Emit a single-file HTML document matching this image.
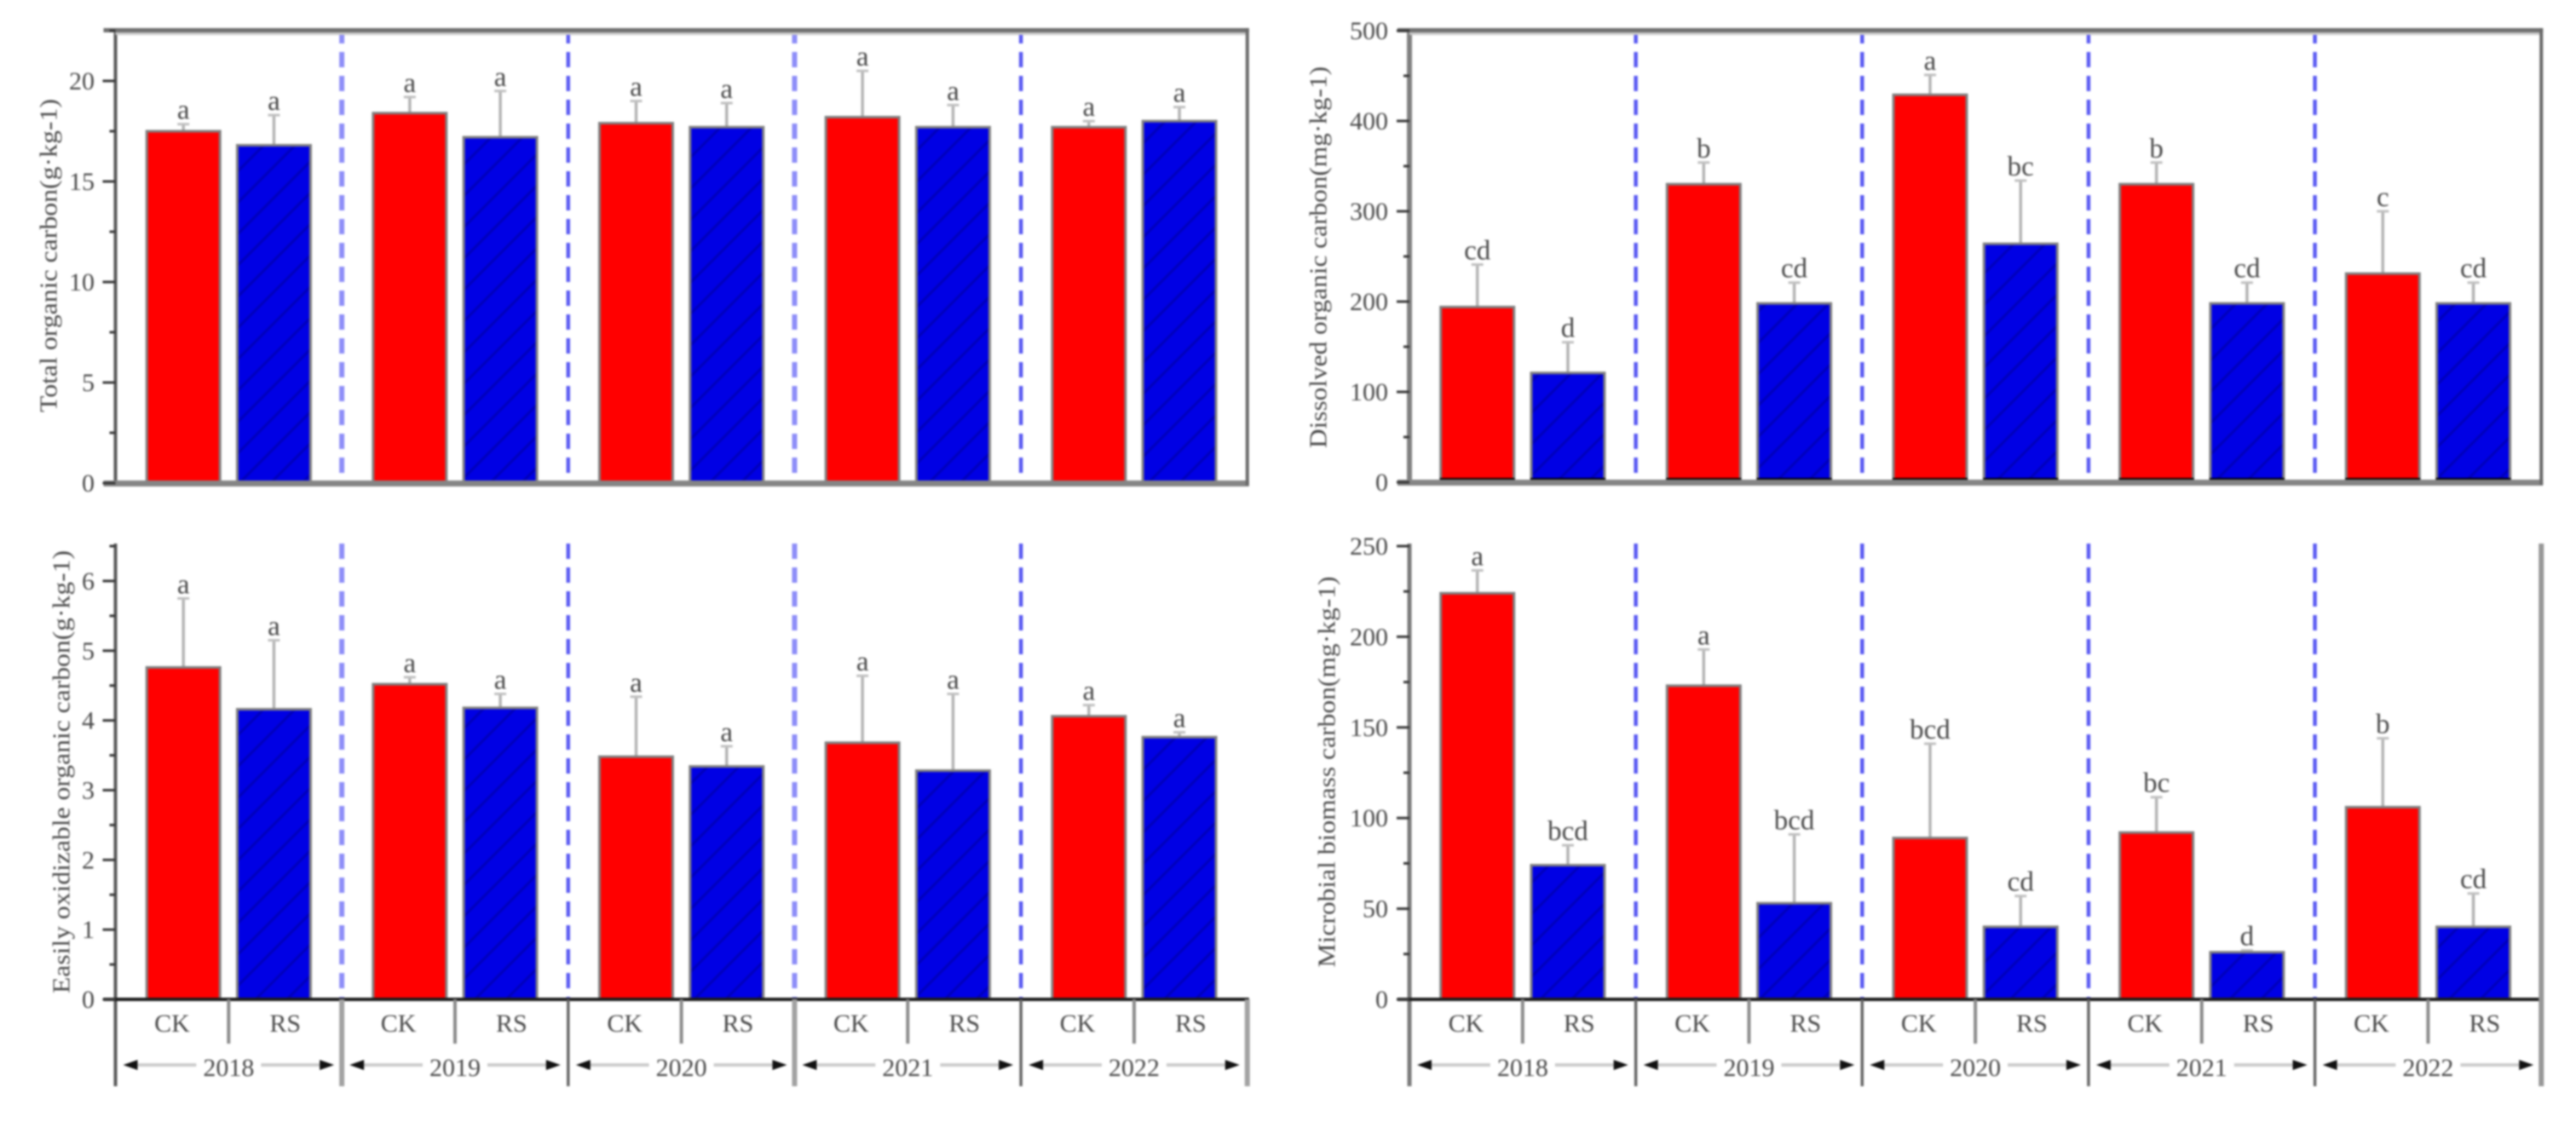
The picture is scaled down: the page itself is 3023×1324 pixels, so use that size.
<!DOCTYPE html>
<html lang="en">
<head>
<meta charset="utf-8">
<title>Soil carbon fractions under CK and RS, 2018–2022</title>
<style>
html,body{margin:0;padding:0;background:#fff;width:3023px;height:1324px;overflow:hidden}
svg{display:block;filter:blur(1px)}
text{font-family:"Liberation Serif",serif;fill:#4a4a4a}
</style>
</head>
<body>
<svg id="figure" xmlns="http://www.w3.org/2000/svg" width="3023" height="1324" viewBox="0 0 3023 1324">
  <defs>
    <pattern id="hatch" patternUnits="userSpaceOnUse" width="26" height="26" patternTransform="rotate(-45)">
      <rect width="26" height="26" fill="#0000e4"></rect>
      <rect width="26" height="3" fill="#0000bb"></rect>
    </pattern>
  </defs>
</svg>
<script>
const years = ['2018', '2019', '2020', '2021', '2022'];
const treatments = ['CK', 'RS'];

const tocTicks = [0, 5, 10, 15, 20];
const tocCK = [17.5, 18.4, 17.9, 18.2, 17.7];
const tocRS = [16.8, 17.2, 17.7, 17.7, 18.0];
const tocCKErr = [0.35, 0.8, 1.1, 2.3, 0.3];
const tocRSErr = [1.5, 2.3, 1.2, 1.1, 0.7];
const tocCKLetters = ['a', 'a', 'a', 'a', 'a'];
const tocRSLetters = ['a', 'a', 'a', 'a', 'a'];

const docTicks = [0, 100, 200, 300, 400, 500];
const docCK = [194, 330, 429, 330, 231];
const docRS = [121, 198, 264, 198, 198];
const docCKErr = [47, 24, 22, 24, 69];
const docRSErr = [34, 23, 70, 23, 23];
const docCKLetters = ['cd', 'b', 'a', 'b', 'c'];
const docRSLetters = ['d', 'cd', 'bc', 'cd', 'cd'];

const eocTicks = [0, 1, 2, 3, 4, 5, 6];
const eocCK = [4.76, 4.52, 3.48, 3.68, 4.06];
const eocRS = [4.16, 4.18, 3.34, 3.28, 3.76];
const eocCKErr = [0.99, 0.1, 0.86, 0.96, 0.16];
const eocRSErr = [0.99, 0.2, 0.29, 1.1, 0.07];
const eocCKLetters = ['a', 'a', 'a', 'a', 'a'];
const eocRSLetters = ['a', 'a', 'a', 'a', 'a'];

const mbcTicks = [0, 50, 100, 150, 200, 250];
const mbcCK = [224, 173, 89, 92, 106];
const mbcRS = [74, 53, 40, 26, 40];
const mbcCKErr = [12.6, 20, 52, 19.5, 38];
const mbcRSErr = [11, 38, 17, 1, 18.4];
const mbcCKLetters = ['a', 'a', 'bcd', 'bc', 'b'];
const mbcRSLetters = ['bcd', 'bcd', 'cd', 'd', 'cd'];

const panels = [
  {key:'toc', title:'Total organic carbon(g·kg-1)', left:135.5, top:36, bottom:567, yMax:22.5, ticks:tocTicks, minor:2.5,
   ck:tocCK, rs:tocRS, ckErr:tocCKErr, rsErr:tocRSErr, ckL:tocCKLetters, rsL:tocRSLetters,
   titleX:58, titleY:300, titleLen:368, frame:true, xLabels:false, tickX:111, axisColor:'#5c5c5c', axisWidth:4, phase:true, footBand:false},
  {key:'doc', title:'Dissolved organic carbon(mg·kg-1)', left:1654, top:36, bottom:566, yMax:500, ticks:docTicks, minor:50,
   ck:docCK, rs:docRS, ckErr:docCKErr, rsErr:docRSErr, ckL:docCKLetters, rsL:docRSLetters,
   titleX:1548, titleY:302, titleLen:448, frame:true, xLabels:false, tickX:1629, axisColor:'#808080', axisWidth:6, phase:false, footBand:true},
  {key:'eoc', title:'Easily oxidizable organic carbon(g·kg-1)', left:135.5, top:641, bottom:1173, yMax:6.5, ticks:eocTicks, minor:0.5,
   ck:eocCK, rs:eocRS, ckErr:eocCKErr, rsErr:eocRSErr, ckL:eocCKLetters, rsL:eocRSLetters,
   titleX:73, titleY:906, titleLen:520, frame:false, xLabels:true, tickX:111, axisColor:'#5c5c5c', axisWidth:4, phase:true, footBand:false},
  {key:'mbc', title:'Microbial biomass carbon(mg·kg-1)', left:1654, top:641, bottom:1173, yMax:250, ticks:mbcTicks, minor:25,
   ck:mbcCK, rs:mbcRS, ckErr:mbcCKErr, rsErr:mbcRSErr, ckL:mbcCKLetters, rsL:mbcRSLetters,
   titleX:1558, titleY:906, titleLen:459, frame:false, xLabels:true, rightAxis:true, tickX:1629, axisColor:'#7a7a7a', axisWidth:5, phase:false, footBand:false}
];

const svgNS = 'http://www.w3.org/2000/svg';
const root = document.getElementById('figure');
const GROUP_W = 265.65;
const UNIT = GROUP_W / 2.5;
const BAR_W = 86;

function add(parent, tag, attrs, txt) {
  const el = document.createElementNS(svgNS, tag);
  for (const k in attrs) el.setAttribute(k, attrs[k]);
  if (txt !== undefined) el.textContent = txt;
  parent.appendChild(el);
  return el;
}

panels.forEach(function (p) {
  const g = add(root, 'g', {});
  
  

  const yScale = function (v) { return p.bottom - (v / p.yMax) * (p.bottom - p.top); };
  const groupX = function (i) { return p.left + i * GROUP_W; };
  const barX = function (i, s) { return groupX(i) + (0.75 + s) * UNIT; };
  const right = groupX(years.length);

  // separators between years
  for (let i = 1; i < years.length; i++) {
    const wide = p.phase && i % 2 === 1;
    const sep = add(g, 'line', {x1:groupX(i), x2:groupX(i), y1:p.top - 3, y2:p.bottom, stroke:wide ? '#8e8ef8' : '#5a5af2', 'stroke-width':wide ? 6 : 4.5, 'stroke-dasharray':'18 10'});
    
    
  }

  // bars, error bars, significance letters
  years.forEach(function (yr, i) {
    treatments.forEach(function (tr, s) {
      const val = s === 0 ? p.ck[i] : p.rs[i];
      const err = s === 0 ? p.ckErr[i] : p.rsErr[i];
      const letter = s === 0 ? p.ckL[i] : p.rsL[i];
      const cx = barX(i, s);
      const topY = yScale(val);
      const errY = yScale(val + err);

      const stem = add(g, 'line', {x1:cx, x2:cx, y1:errY, y2:topY, stroke:'#b4b4b4', 'stroke-width':3.5});
      
      

      const cap = add(g, 'line', {x1:cx - 7, x2:cx + 7, y1:errY, y2:errY, stroke:'#c0c0c0', 'stroke-width':3});
      
      

      const bar = add(g, 'rect', {x:cx - BAR_W / 2, y:topY, width:BAR_W, height:p.bottom - topY,
        fill:s === 0 ? '#ff0000' : 'url(#hatch)', stroke:'#808080', 'stroke-width':3});
      
      

      if (p.footBand) {
        const foot = add(g, 'rect', {x:cx - BAR_W / 2 - 1, y:p.bottom - 5, width:BAR_W + 2, height:3, fill:'#000'});
        
        
      }

      const lab = add(g, 'text', {x:cx, y:errY - 6, 'text-anchor':'middle', 'font-size':33}, letter);
      
      
    });
  });

  // left axis
  const axisY = add(g, 'line', {x1:p.left, x2:p.left, y1:p.top - 3, y2:p.xLabels ? 1275 : p.bottom + 3, stroke:p.axisColor, 'stroke-width':p.axisWidth});
  
  

  // baseline
  const baseWidth = p.xLabels ? 4 : 7;
  const baseColor = p.xLabels ? '#1c1c1c' : '#858585';
  const axisX = add(g, 'line', {x1:p.left - 14, x2:right + 2, y1:p.bottom + (p.xLabels ? 0 : 0.5), y2:p.bottom + (p.xLabels ? 0 : 0.5), stroke:baseColor, 'stroke-width':baseWidth});
  
  

  // frame
  if (p.frame) {
    const topDark = add(g, 'line', {x1:p.left - 14, x2:right + 2, y1:p.top - 0.5, y2:p.top - 0.5, stroke:'#707070', 'stroke-width':5});
    
    
    const topLight = add(g, 'line', {x1:p.left, x2:right, y1:p.top + 3.5, y2:p.top + 3.5, stroke:'#c8c8c8', 'stroke-width':3});
    
    
    const rightLine = add(g, 'line', {x1:right, x2:right, y1:p.top - 3, y2:p.bottom + 3, stroke:'#6a6a6a', 'stroke-width':4});
    
    
  }
  if (p.rightAxis) {
    const rightLong = add(g, 'line', {x1:right, x2:right, y1:p.top - 3, y2:p.bottom, stroke:'#989898', 'stroke-width':6});
    
    
  }

  // ticks
  for (let v = 0; v <= p.yMax + 1e-6; v += p.minor) {
    const isMajor = p.ticks.indexOf(+v.toFixed(4)) >= 0;
    const t = add(g, 'line', {x1:p.left - (isMajor ? 15 : 7), x2:p.left, y1:yScale(v), y2:yScale(v), stroke:'#3a3a3a', 'stroke-width':3});
    
    
  }
  p.ticks.forEach(function (v) {
    const tl = add(g, 'text', {x:p.tickX, y:yScale(v) + 10, 'text-anchor':'end', 'font-size':30}, String(v));
    
    
  });

  // y title
  const yt = add(g, 'text', {x:0, y:0, transform:'translate(' + p.titleX + ' ' + p.titleY + ') rotate(-90)', 'text-anchor':'middle',
    'dominant-baseline':'central', 'font-size':28, textLength:p.titleLen, lengthAdjust:'spacingAndGlyphs'}, p.title);
  
  

  // categorical axis under the plot
  if (p.xLabels) {
    for (let i = 1; i <= years.length; i++) {
      const last = i === years.length;
      if (last && p.rightAxis) {
        const d5 = add(g, 'line', {x1:groupX(i), x2:groupX(i), y1:p.bottom, y2:1275, stroke:'#989898', 'stroke-width':6});
        
        
        continue;
      }
      const wide = p.phase && i % 2 === 1;
      const d = add(g, 'line', {x1:groupX(i), x2:groupX(i), y1:p.bottom, y2:1275, stroke:wide ? '#a2a2a2' : '#666', 'stroke-width':wide ? 6 : 3.5});
      
      
    }
    years.forEach(function (yr, i) {
      const gx = groupX(i);
      const mid = gx + GROUP_W / 2;
      const cd = add(g, 'line', {x1:mid, x2:mid, y1:p.bottom, y2:1225, stroke:'#8c8c8c', 'stroke-width':4});
      
      

      treatments.forEach(function (tr, s) {
        const lx = gx + GROUP_W * (s === 0 ? 0.25 : 0.75);
        const cl = add(g, 'text', {x:lx, y:1211, 'text-anchor':'middle', 'font-size':30}, tr);
        
        
      });

      const arrow = add(g, 'line', {x1:gx + 20, x2:gx + GROUP_W - 20, y1:1250, y2:1250, stroke:'#cdcdcd', 'stroke-width':4});
      
      

      const headL = add(g, 'polygon', {points:(gx + 9) + ',1250 ' + (gx + 26) + ',1244 ' + (gx + 26) + ',1256', fill:'#111'});
      
      

      const headR = add(g, 'polygon', {points:(gx + GROUP_W - 9) + ',1250 ' + (gx + GROUP_W - 26) + ',1244 ' + (gx + GROUP_W - 26) + ',1256', fill:'#111'});
      
      

      const mask = add(g, 'rect', {x:mid - 38, y:1236, width:76, height:30, fill:'#fff'});
      
      

      const yl = add(g, 'text', {x:mid, y:1263, 'text-anchor':'middle', 'font-size':30}, yr);
      
      
    });
  }
});
</script>
</body>
</html>
